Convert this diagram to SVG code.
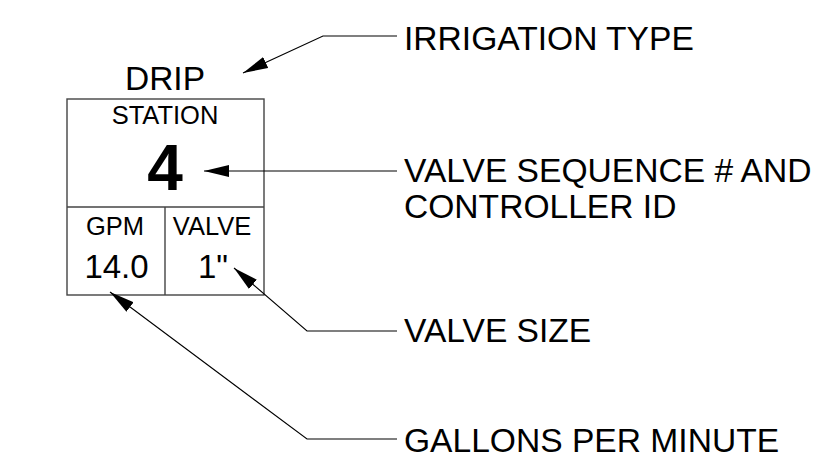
<svg xmlns="http://www.w3.org/2000/svg" width="816" height="472" viewBox="0 0 816 472">
<style>
text{font-family:"Liberation Sans",Arial,sans-serif;fill:#000}
.box{fill:none;stroke:#444;stroke-width:1.4}
.lead{fill:none;stroke:#000;stroke-width:1.1}
.lbl{font-size:33.6px}
.mid{text-anchor:middle}
</style>
<defs>
<marker id="ah" markerUnits="userSpaceOnUse" markerWidth="26" markerHeight="14" viewBox="0 -7 26 14" refX="25" refY="0" orient="auto-start-reverse">
<path d="M0,-6 L25,0 L0,6 z" fill="#000"/>
</marker>
</defs>
<rect width="816" height="472" fill="#fff"/>
<g id="symbol">
<rect class="box" x="67" y="99" width="197" height="196"/>
<line class="box" x1="67" y1="207" x2="264" y2="207"/>
<line class="box" x1="165" y1="207" x2="165" y2="295"/>
<text class="mid" x="165" y="90" font-size="33.5">DRIP</text>
<text class="mid" x="165" y="124" font-size="25.5">STATION</text>
<text class="mid" x="165" y="190" font-size="64" font-weight="bold">4</text>
<text class="mid" x="115" y="235" font-size="25.5">GPM</text>
<text class="mid" x="212" y="235" font-size="25.5">VALVE</text>
<text class="mid" x="116.5" y="278" font-size="33">14.0</text>
<text class="mid" x="213" y="278" font-size="33">1"</text>
</g>
<g id="label-irrigation"><text class="lbl" x="404" y="50">IRRIGATION TYPE</text></g>
<g id="label-sequence"><text class="lbl" x="404" y="182">VALVE SEQUENCE # AND</text><text class="lbl" x="404" y="218">CONTROLLER ID</text></g>
<g id="label-size"><text class="lbl" x="404" y="342">VALVE SIZE</text></g>
<g id="label-gpm"><text class="lbl" x="404" y="452">GALLONS PER MINUTE</text></g>
<g id="connectors">
<path class="lead" marker-start="url(#ah)" d="M243,73 L323,36 L397,36"/>
<path class="lead" marker-start="url(#ah)" d="M204,171 L397,171"/>
<path class="lead" marker-start="url(#ah)" d="M234,268 L307,331 L397,331"/>
<path class="lead" marker-start="url(#ah)" d="M110,292 L307,439 L397,439"/>
</g>
</svg>
